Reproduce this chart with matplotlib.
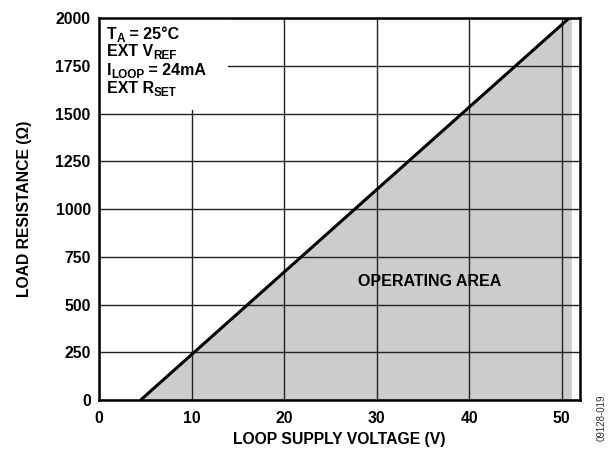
import numpy as np
import matplotlib
matplotlib.use("Agg")
import matplotlib.pyplot as plt
from matplotlib.patches import Rectangle
from matplotlib.transforms import offset_copy

plt.rcParams['font.family'] = ['Liberation Sans', 'DejaVu Sans']
plt.rcParams['font.weight'] = 'bold'

# boundary of the operating area (V, ohm)
v_line = [4.5, 50.8]
r_line = [0, 2000]
v_fill_end = 51.1

x_ticks = [0, 10, 20, 30, 40, 50]
y_ticks = [0, 250, 500, 750, 1000, 1250, 1500, 1750, 2000]

# test conditions, (text, is_subscript) pieces per line
cond_lines = [[('T', False), ('A', True), (' = 25°C', False)],
              [('EXT V', False), ('REF', True)],
              [('I', False), ('LOOP', True), (' = 24mA', False)],
              [('EXT R', False), ('SET', True)]]

fig = plt.figure(figsize=(6.13, 4.53), dpi=100)
ax = fig.add_axes([0.1615, 0.117, 0.785, 0.843])

# shaded area under the line
poly_x = [v_line[0], v_line[1], v_fill_end, v_fill_end]
poly_y = [r_line[0], r_line[1], r_line[1], r_line[0]]
ax.fill(poly_x, poly_y, color='#cccccc', lw=0, zorder=1)

ax.set_xlim(0, 52)
ax.set_ylim(0, 2000)
ax.set_xticks(x_ticks)
ax.set_yticks(y_ticks)
ax.grid(True, color='#222222', lw=1.0, zorder=2)
ax.set_axisbelow(False)
for s in ax.spines.values():
    s.set_linewidth(1.8)
    s.set_zorder(5)
ax.tick_params(length=0, labelsize=11.3)
ax.tick_params(axis='x', pad=8)
ax.tick_params(axis='y', pad=6)

ax.plot(v_line, r_line, color='black', lw=2.2, zorder=4, solid_capstyle='butt')

ax.set_xlabel('LOOP SUPPLY VOLTAGE (V)', fontsize=11.3, fontweight='bold', labelpad=4)
ax.set_ylabel('LOAD RESISTANCE (Ω)', fontsize=11.3, fontweight='bold', labelpad=17)

# white box behind the conditions text (hides the grid)
ax.add_patch(Rectangle((0, 0.759), 0.268, 0.241, transform=ax.transAxes,
                       facecolor='white', edgecolor='none', zorder=3))
renderer = fig.canvas.get_renderer()
baselines = [0.9458, 0.9005, 0.8516, 0.8037]
for pieces, yb in zip(cond_lines, baselines):
    dx = 0.0
    for s, sub in pieces:
        tr = offset_copy(ax.transAxes, fig=fig, x=dx, y=-3 if sub else 0, units='dots')
        t = ax.text(0.016, yb, s, transform=tr, ha='left', va='baseline',
                    fontsize=8.5 if sub else 11.5, fontweight='bold', zorder=6)
        dx += t.get_window_extent(renderer).width

ax.text(35.7, 620, 'OPERATING AREA', ha='center', va='center',
        fontsize=11.5, fontweight='bold', zorder=6)

fig.text(0.982, 0.13, '09128-019', rotation=90, ha='center', va='top',
         fontsize=7, fontweight='normal', color='#333333')

fig.savefig('out.png', dpi=100)
